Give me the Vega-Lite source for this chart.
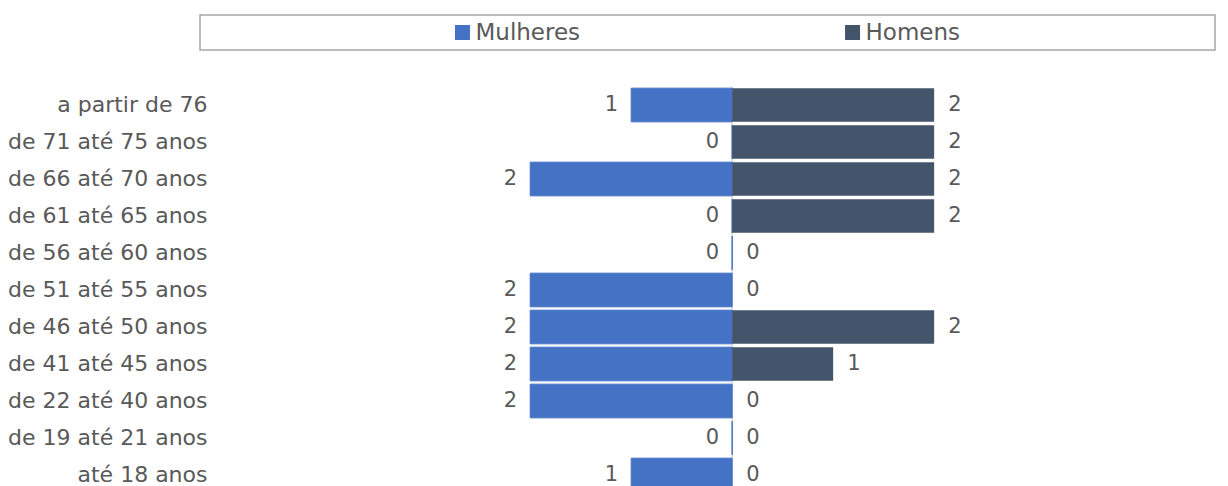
{
  "$schema": "https://vega.github.io/schema/vega-lite/v6.json",
  "background": "white",
  "padding": {"top": 14, "left": 7, "right": 0, "bottom": 0},
  "bounds": "flush",
  "spacing": 36.5,
  "config": {"view": {"stroke": null}, "font": "DejaVu Sans"},
  "datasets": {
    "pyr": [
      {"faixa": "a partir de 76", "sexo": "Mulheres", "n": 1},
      {"faixa": "a partir de 76", "sexo": "Homens", "n": 2},
      {"faixa": "de 71 até 75 anos", "sexo": "Mulheres", "n": 0},
      {"faixa": "de 71 até 75 anos", "sexo": "Homens", "n": 2},
      {"faixa": "de 66 até 70 anos", "sexo": "Mulheres", "n": 2},
      {"faixa": "de 66 até 70 anos", "sexo": "Homens", "n": 2},
      {"faixa": "de 61 até 65 anos", "sexo": "Mulheres", "n": 0},
      {"faixa": "de 61 até 65 anos", "sexo": "Homens", "n": 2},
      {"faixa": "de 56 até 60 anos", "sexo": "Mulheres", "n": 0},
      {"faixa": "de 56 até 60 anos", "sexo": "Homens", "n": 0},
      {"faixa": "de 51 até 55 anos", "sexo": "Mulheres", "n": 2},
      {"faixa": "de 51 até 55 anos", "sexo": "Homens", "n": 0},
      {"faixa": "de 46 até 50 anos", "sexo": "Mulheres", "n": 2},
      {"faixa": "de 46 até 50 anos", "sexo": "Homens", "n": 2},
      {"faixa": "de 41 até 45 anos", "sexo": "Mulheres", "n": 2},
      {"faixa": "de 41 até 45 anos", "sexo": "Homens", "n": 1},
      {"faixa": "de 22 até 40 anos", "sexo": "Mulheres", "n": 2},
      {"faixa": "de 22 até 40 anos", "sexo": "Homens", "n": 0},
      {"faixa": "de 19 até 21 anos", "sexo": "Mulheres", "n": 0},
      {"faixa": "de 19 até 21 anos", "sexo": "Homens", "n": 0},
      {"faixa": "até 18 anos", "sexo": "Mulheres", "n": 1},
      {"faixa": "até 18 anos", "sexo": "Homens", "n": 0}
    ],
    "leg": [{"sexo": "Mulheres"}, {"sexo": "Homens"}]
  },
  "vconcat": [
    {
      "width": 1015,
      "height": 35,
      "data": {"name": "leg"},
      "view": {"stroke": "#a6a6a6", "strokeWidth": 1.5},
      "layer": [
        {
          "mark": {"type": "point", "shape": "square", "filled": true, "size": 225, "opacity": 1},
          "encoding": {
            "x": {"field": "sexo", "type": "nominal", "sort": null, "scale": {"type": "point", "padding": 0.801, "align": 0.42}, "axis": null},
            "color": {"field": "sexo", "type": "nominal", "scale": {"domain": ["Mulheres", "Homens"], "range": ["#4472C4", "#44546A"]}, "legend": null}
          }
        },
        {
          "mark": {"type": "text", "align": "left", "baseline": "middle", "dx": 13, "fontSize": 23, "color": "#595959"},
          "encoding": {
            "x": {"field": "sexo", "type": "nominal", "sort": null, "scale": {"type": "point", "padding": 0.801, "align": 0.42}, "axis": null},
            "text": {"field": "sexo"}
          }
        }
      ]
    },
    {
      "width": 1027,
      "height": 407,
      "data": {"name": "pyr"},
      "layer": [
        {
          "data": {"values": [{}]},
          "mark": {"type": "rule", "color": "#d9d9d9", "strokeWidth": 1.5},
          "encoding": {
            "x": {"datum": 0, "type": "quantitative", "scale": {"domain": [-5.27, 4.9]}, "axis": null}
          }
        },
        {
          "transform": [{"filter": "datum.sexo == 'Mulheres'"}],
          "mark": {"type": "bar", "color": "#4472C4", "stroke": "#4472C4", "strokeWidth": 1},
          "encoding": {
            "y": {"field": "faixa", "type": "nominal", "sort": null, "scale": {"paddingInner": 0.09, "paddingOuter": 0.045},
              "axis": {"title": null, "ticks": false, "domain": false, "labelPadding": -7, "labelFontSize": 22, "labelColor": "#595959", "labelFont": "DejaVu Sans", "labelLimit": 400}},
            "x": {"field": "n", "type": "quantitative", "scale": {"domain": [-4.9, 5.27], "reverse": true, "zero": false, "nice": false}, "axis": null}
          }
        },
        {
          "transform": [{"filter": "datum.sexo == 'Mulheres'"}],
          "mark": {"type": "text", "align": "right", "baseline": "middle", "dx": -13, "fontSize": 21, "color": "#595959"},
          "encoding": {
            "y": {"field": "faixa", "type": "nominal", "sort": null},
            "x": {"field": "n", "type": "quantitative", "scale": {"domain": [-4.9, 5.27], "reverse": true, "zero": false, "nice": false}, "axis": null},
            "text": {"field": "n", "type": "quantitative"}
          }
        },
        {
          "transform": [{"filter": "datum.sexo == 'Homens'"}],
          "mark": {"type": "bar", "color": "#44546A"},
          "encoding": {
            "y": {"field": "faixa", "type": "nominal", "sort": null},
            "x": {"field": "n", "type": "quantitative", "scale": {"domain": [-5.27, 4.9], "zero": false, "nice": false}, "axis": null}
          }
        },
        {
          "transform": [{"filter": "datum.sexo == 'Homens'"}],
          "mark": {"type": "text", "align": "left", "baseline": "middle", "dx": 14, "fontSize": 21, "color": "#595959"},
          "encoding": {
            "y": {"field": "faixa", "type": "nominal", "sort": null},
            "x": {"field": "n", "type": "quantitative", "scale": {"domain": [-5.27, 4.9], "zero": false, "nice": false}, "axis": null},
            "text": {"field": "n", "type": "quantitative"}
          }
        }
      ],
      "resolve": {"scale": {"x": "independent"}}
    }
  ]
}
